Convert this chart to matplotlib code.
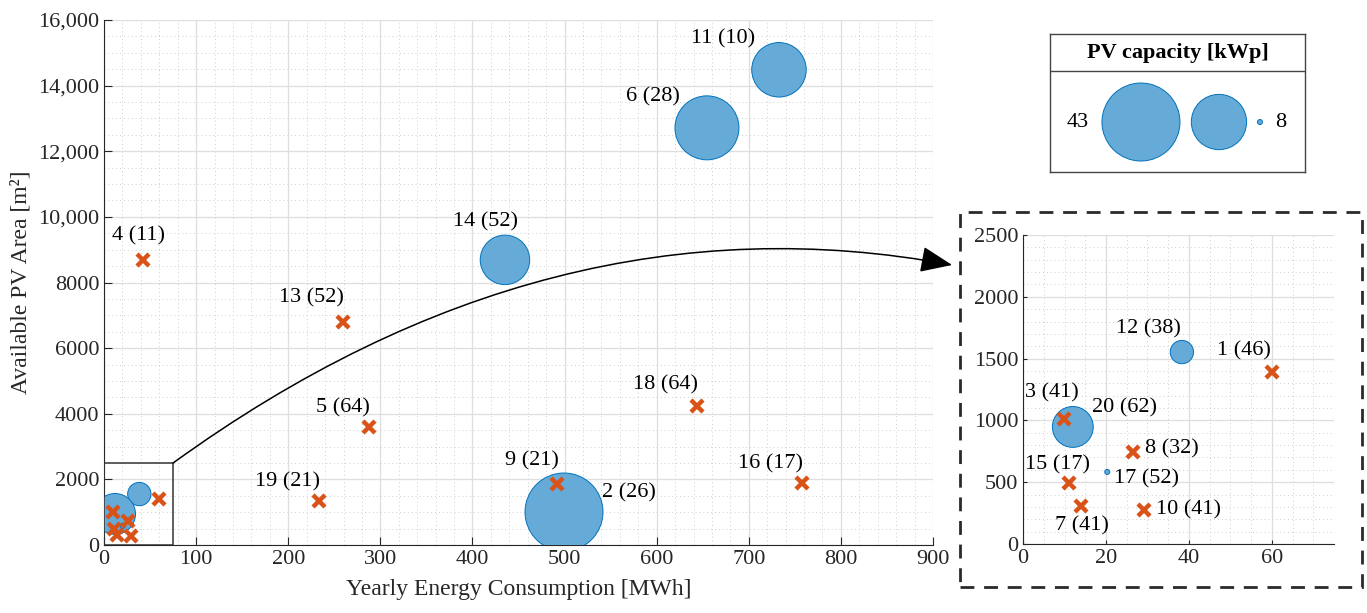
import numpy as np
import matplotlib.pyplot as plt
from matplotlib.ticker import MultipleLocator, FuncFormatter
from matplotlib.patches import Rectangle, FancyArrowPatch
from matplotlib.path import Path

plt.rcParams['font.family'] = ['Liberation Serif', 'DejaVu Serif']
plt.rcParams['font.size'] = 16

# buildings with PV (bubbles)
pv_ids = [2, 6, 11, 14, 12, 20, 17]
pv_extra = [26, 28, 10, 52, 38, 62, 52]
pv_x = [499.4, 654.6, 732.8, 435.3, 38.3, 12.0, 20.3]
pv_y = [1006, 12713, 14482, 8690, 1553, 947, 583]
pv_kwp = [43, 31.5, 25, 22, 11, 17.5, 8]

# buildings without PV (crosses)
no_ids = [4, 13, 5, 19, 9, 18, 16, 1, 3, 8, 15, 7, 10]
no_extra = [11, 52, 64, 21, 21, 64, 17, 46, 41, 32, 17, 41, 41]
no_x = [42.3, 259.5, 287.7, 233.4, 491.8, 643.8, 757.8, 60.0, 9.9, 26.5, 11.1, 13.9, 29.2]
no_y = [8690, 6800, 3598, 1341, 1860, 4238, 1890, 1392, 1011, 744, 494, 307, 275]

legend_kwp = [43, 25.5, 8]

# label offsets in points (dx, dy), keyed by building id
offsets = {4: (-3, 17), 13: (-23, 17), 5: (-19, 14), 19: (-23, 14), 9: (-18, 17),
           18: (-23, 15), 16: (-23, 14), 14: (-14, 27), 6: (-39, 22), 11: (-40, 22),
           2: (47, 14), 12: (-24, 17), 1: (-20, 15), 3: (-9, 19), 20: (37, 14),
           8: (28, 2), 17: (28, -5), 15: (-8, 13), 7: (1, -14), 10: (32, 0)}

BLUE_F = '#66aad7'
BLUE_E = '#0072bd'
ORANGE = '#d95319'
DARK = '#262626'


def bubble_size(v):
    # area in px^2 linear in kWp, then px -> pt at dpi 100
    area_px = 25 + (np.asarray(v) - 8) / 35 * 6059
    return area_px * 0.72 ** 2


def style_axes(ax, xmin, ymin):
    ax.spines['top'].set_visible(False)
    ax.spines['right'].set_visible(False)
    ax.spines['left'].set_color(DARK)
    ax.spines['bottom'].set_color(DARK)
    ax.grid(True, which='major', color='#dedede', lw=0.9)
    ax.grid(True, which='minor', color='#cfcfcf', lw=0.7, ls=(0, (1, 3)))
    ax.set_axisbelow(True)
    ax.xaxis.set_minor_locator(MultipleLocator(xmin))
    ax.yaxis.set_minor_locator(MultipleLocator(ymin))
    ax.tick_params(which='both', direction='in', colors=DARK, labelsize=16)
    ax.tick_params(which='minor', length=0)


def draw_points(ax, label_ids):
    ax.scatter(pv_x, pv_y, s=bubble_size(pv_kwp), facecolor=BLUE_F,
               edgecolor=BLUE_E, linewidth=0.7, zorder=3)
    ax.plot(no_x, no_y, ls='none', marker='x', ms=9, mew=3.2,
            color=ORANGE, zorder=4)
    for i, x, y, e in zip(pv_ids + no_ids, pv_x + no_x, pv_y + no_y, pv_extra + no_extra):
        if i in label_ids:
            dx, dy = offsets[i]
            ax.annotate(f"{i} ({e})", (x, y), xytext=(dx, dy), textcoords='offset points',
                        ha='center', va='center', fontsize=16, zorder=5)


fig = plt.figure(figsize=(13.67, 6.13), dpi=100)

# main axes
ax = fig.add_axes([0.0761, 0.1109, 0.6064, 0.8565])
style_axes(ax, 20, 500)
ax.set_xlim(0, 900)
ax.set_ylim(0, 16000)
ax.xaxis.set_major_locator(MultipleLocator(100))
ax.yaxis.set_major_locator(MultipleLocator(2000))
ax.yaxis.set_major_formatter(FuncFormatter(lambda v, p: f"{v:,.0f}" if v >= 10000 else f"{v:.0f}"))
ax.tick_params(which='major', length=6)
draw_points(ax, [4, 13, 5, 19, 9, 18, 16, 14, 6, 11, 2])
ax.set_xlabel("Yearly Energy Consumption [MWh]", fontsize=17, color=DARK, labelpad=7)
ax.set_ylabel("Available PV Area [m²]", fontsize=17, color=DARK, labelpad=5)
ax.add_patch(Rectangle((0, 0), 75, 2500, fill=False, edgecolor='#333333', lw=1.1, zorder=6))

# inset axes
axi = fig.add_axes([0.7484, 0.1126, 0.2275, 0.504])
style_axes(axi, 5, 100)
axi.set_xlim(0, 75)
axi.set_ylim(0, 2500)
axi.xaxis.set_major_locator(MultipleLocator(20))
axi.yaxis.set_major_locator(MultipleLocator(500))
axi.tick_params(which='major', length=3)
draw_points(axi, [12, 1, 3, 20, 8, 17, 15, 7, 10])

# dashed frame around inset
fig.patches.append(Rectangle((0.7023, 0.0424), 0.294, 0.6118, transform=fig.transFigure,
                             fill=False, edgecolor='#2a2a2a', lw=2, ls=(0, (5, 3.5))))

# curved arrow from zoom rectangle corner to inset (quadratic bezier, figure fraction)
start = fig.transFigure.inverted().transform(ax.transData.transform((75, 2500)))
ctrl = (0.4023, 0.6900)
end = (0.6965, 0.5677)
arrow_path = Path([start, ctrl, end], [Path.MOVETO, Path.CURVE3, Path.CURVE3])
arrow = FancyArrowPatch(path=arrow_path, transform=fig.transFigure,
                        arrowstyle='-|>,head_length=1.1,head_width=0.45',
                        color='black', lw=1.1, mutation_scale=18, zorder=7)
fig.patches.append(arrow)

# bubble size legend
axl = fig.add_axes([0.7681, 0.7194, 0.1865, 0.2251])
axl.set_xlim(0, 255)
axl.set_ylim(0, 138)
axl.set_xticks([])
axl.set_yticks([])
for sp in axl.spines.values():
    sp.set_color('#444444')
    sp.set_linewidth(1)
axl.axhline(101, color='#444444', lw=1)
axl.text(127.5, 119.5, "PV capacity [kWp]", ha='center', va='center',
         fontsize=16, fontweight='bold')
axl.scatter([91, 169, 210], [50, 50, 50], s=bubble_size(legend_kwp), facecolor=BLUE_F,
            edgecolor=BLUE_E, linewidth=0.7, clip_on=False)
axl.text(28, 50, f"{legend_kwp[0]}", ha='center', va='center', fontsize=16)
axl.text(231, 50, f"{legend_kwp[2]}", ha='center', va='center', fontsize=16)

fig.savefig("out.png", dpi=100)
